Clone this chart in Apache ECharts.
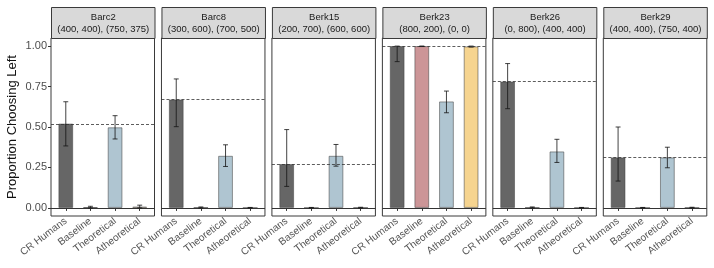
<!DOCTYPE html>
<html>
<head>
<meta charset="utf-8">
<script src="https://cdn.jsdelivr.net/npm/echarts@6/dist/echarts.min.js"></script>
<style>
html,body{margin:0;padding:0;background:#fff;}
#c{width:714px;height:268px;}
</style>
</head>
<body>
<div id="c"></div>
<script>
// ---- data ----
const panels = ['Barc2', 'Barc8', 'Berk15', 'Berk23', 'Berk26', 'Berk29'];
const gambles = ['(400, 400), (750, 375)', '(300, 600), (700, 500)', '(200, 700), (600, 600)', '(800, 200), (0, 0)', '(0, 800), (400, 400)', '(400, 400), (750, 400)'];
const categories = ['CR Humans', 'Baseline', 'Theoretical', 'Atheoretical'];
const yTicks = [0, 0.25, 0.5, 0.75, 1.0];

const crHumans      = [0.521, 0.670, 0.271, 1.000, 0.781, 0.312];
const crHumansLow   = [0.383, 0.502, 0.133, 0.904, 0.613, 0.166];
const crHumansHigh  = [0.656, 0.797, 0.484, 1.000, 0.892, 0.500];
const baseline      = [0.005, 0.003, 0.001, 1.000, 0.003, 0.001];
const baselineLow   = [0.000, 0.000, 0.000, 0.998, 0.000, 0.000];
const baselineHigh  = [0.010, 0.006, 0.003, 1.000, 0.006, 0.003];
const theoretical     = [0.498, 0.322, 0.322, 0.658, 0.349, 0.312];
const theoreticalLow  = [0.426, 0.256, 0.258, 0.588, 0.281, 0.248];
const theoreticalHigh = [0.570, 0.390, 0.392, 0.722, 0.424, 0.375];
const atheoretical     = [0.008, 0.001, 0.002, 0.998, 0.001, 0.002];
const atheoreticalLow  = [0.000, 0.000, 0.000, 0.994, 0.000, 0.000];
const atheoreticalHigh = [0.017, 0.003, 0.004, 1.000, 0.003, 0.004];

const colors = ['#666666', '#cc9597', '#afc5d1', '#f6d48f'];

// ---- layout ----
(function () {
const FONT = '"Liberation Sans", Arial, Helvetica, sans-serif';
const left0 = 51, step = 110.46, pw = 103.5, gTop = 38, ph = 178;
const stripTop = 7, stripH = 31;
const xMin = 0.4, xMax = 4.6;
const barPx = 0.6 * pw / (xMax - xMin);

const grids = [], xAxes = [], yAxes = [], series = [], graphics = [];
const vals = [crHumans, baseline, theoretical, atheoretical];
const lows = [crHumansLow, baselineLow, theoreticalLow, atheoreticalLow];
const highs = [crHumansHigh, baselineHigh, theoreticalHigh, atheoreticalHigh];

panels.forEach((p, i) => {
  const L = left0 + i * step;
  grids.push({left: L, top: gTop, width: pw, height: ph, show: true,
    borderColor: '#3a3a3a', borderWidth: 1, backgroundColor: '#fff', containLabel: false});
  xAxes.push({type: 'value', gridIndex: i, min: xMin, max: xMax,
    axisLine: {show: false}, splitLine: {show: false},
    axisTick: {show: true, length: 3, lineStyle: {color: '#333'}, customValues: [1, 2, 3, 4]},
    axisLabel: {show: true, customValues: [1, 2, 3, 4], rotate: 37, fontSize: 10.2, color: '#555',
      fontFamily: FONT, margin: 4, formatter: v => categories[Math.round(v) - 1]}});
  yAxes.push({type: 'value', gridIndex: i, min: -0.05, max: 1.05,
    axisLine: {show: false}, splitLine: {show: false},
    axisTick: {show: i === 0, length: 3, lineStyle: {color: '#333'}, customValues: yTicks},
    axisLabel: {show: i === 0, customValues: yTicks, fontSize: 11, color: '#4d4d4d', fontFamily: FONT,
      margin: 4, formatter: v => v.toFixed(2)},
    name: i === 0 ? 'Proportion Choosing Left' : '', nameLocation: 'middle', nameGap: 32,
    nameTextStyle: {fontSize: 13, color: '#111', fontFamily: FONT}});

  series.push({type: 'bar', xAxisIndex: i, yAxisIndex: i, barWidth: barPx,
    data: categories.map((c, k) => ({value: [k + 1, vals[k][i]],
      itemStyle: {color: colors[k], borderColor: 'rgba(70,70,70,0.55)', borderWidth: 1}})),
    markLine: {silent: true, symbol: 'none', label: {show: false},
      data: [
        {yAxis: crHumans[i], lineStyle: {type: [3, 2], color: '#333', width: 0.8}},
        {yAxis: 0, lineStyle: {type: 'solid', color: '#333', width: 1}}
      ]},
    z: 2});

  series.push({type: 'custom', xAxisIndex: i, yAxisIndex: i, z: 5,
    data: categories.map((c, k) => [k + 1, lows[k][i], highs[k][i]]),
    renderItem: (params, api) => {
      const x = api.value(0), lo = api.value(1), hi = api.value(2);
      const pLo = api.coord([x, lo]), pHi = api.coord([x, hi]);
      const a = api.coord([x - 0.1, hi]), b = api.coord([x + 0.1, hi]);
      const c2 = api.coord([x - 0.1, lo]), d = api.coord([x + 0.1, lo]);
      const st = {stroke: 'rgba(20,20,20,0.8)', lineWidth: 1};
      return {type: 'group', children: [
        {type: 'line', shape: {x1: pLo[0], y1: pLo[1], x2: pHi[0], y2: pHi[1]}, style: st},
        {type: 'line', shape: {x1: a[0], y1: a[1], x2: b[0], y2: b[1]}, style: st},
        {type: 'line', shape: {x1: c2[0], y1: c2[1], x2: d[0], y2: d[1]}, style: st}
      ]};
    }});

  graphics.push({type: 'group', left: L, top: stripTop, children: [
    {type: 'rect', shape: {x: 0, y: 0, width: pw, height: stripH},
      style: {fill: '#d9d9d9', stroke: '#3a3a3a', lineWidth: 1}},
    {type: 'text', x: pw / 2, y: stripH / 2,
      style: {text: p + '\n' + gambles[i], fill: '#1a1a1a', font: '9.5px ' + FONT,
        align: 'center', verticalAlign: 'middle', lineHeight: 12}}
  ]});
});

const chart = echarts.init(document.getElementById('c'), null, {renderer: 'canvas'});
chart.setOption({
  animation: false,
  backgroundColor: '#fff',
  grid: grids, xAxis: xAxes, yAxis: yAxes, series: series, graphic: graphics
});
})();
</script>
</body>
</html>
